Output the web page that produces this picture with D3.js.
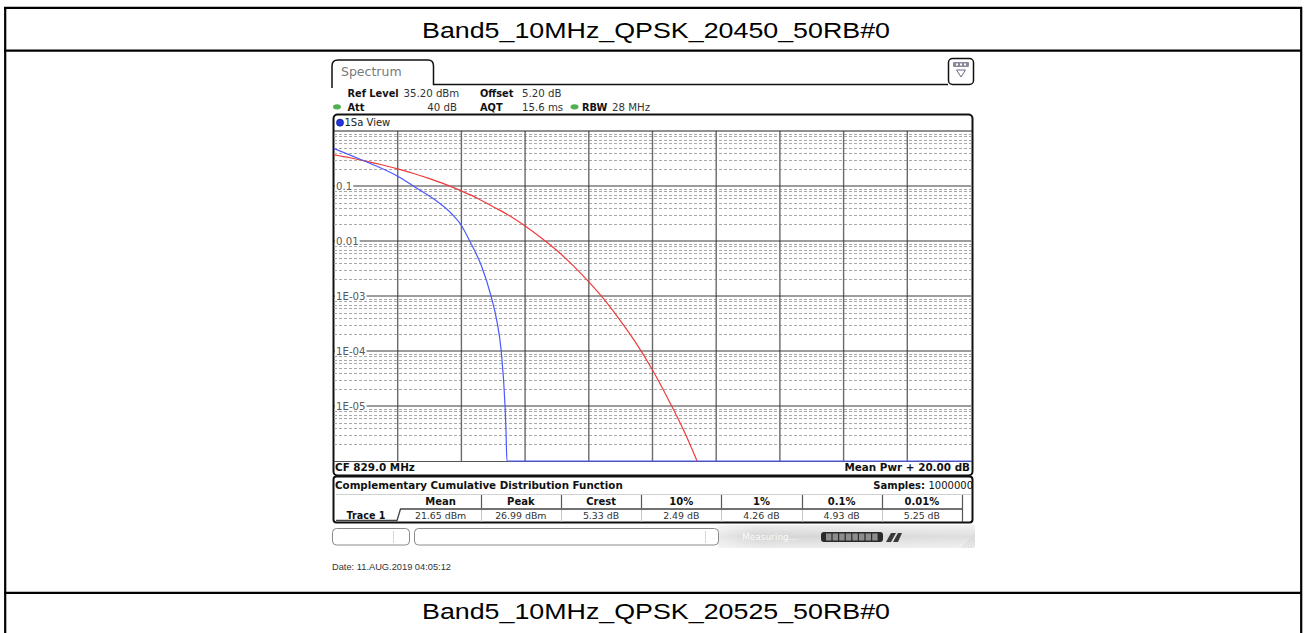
<!DOCTYPE html>
<html>
<head>
<meta charset="utf-8">
<script src="https://cdn.jsdelivr.net/npm/d3@7"></script>
<style>
  body { margin: 0; background: #fff; }
  svg { display: block; }
</style>
</head>
<body>
<svg id="chart"></svg>
<script>
"use strict";

const titleTop = "Band5_10MHz_QPSK_20450_50RB#0";
const titleBottom = "Band5_10MHz_QPSK_20525_50RB#0";

// y axis decade labels (probability, log)
const decadeValues = [0.1, 0.01, 1e-3, 1e-4, 1e-5];
const decadeLabels = ["0.1", "0.01", "1E-03", "1E-04", "1E-05"];

// red reference curve (dB above mean power -> probability)
const refDb = [0, 0.5, 1, 1.5, 2, 2.5, 3, 3.5, 4, 4.5, 5, 5.5, 6, 6.5, 7, 7.5, 8, 8.5, 9, 9.5, 10, 10.5, 11, 11.4];
const refProb = [0.368, 0.326, 0.284, 0.243, 0.205, 0.169, 0.136, 0.107, 0.081, 0.060, 0.042, 0.029,
                 0.0187, 0.0115, 0.0067, 0.0036, 0.0018, 8.4e-4, 3.5e-4, 1.35e-4, 4.5e-5, 1.3e-5, 3.4e-6, 1e-6];

// blue measured trace
const measDb = [0, 0.8, 2.0, 2.49, 3.17, 3.7, 4.03, 4.26, 4.64, 4.93, 5.11, 5.25, 5.37, 5.4, 5.43, 20];
const measProb = [0.48, 0.31, 0.15, 0.1, 0.056, 0.031, 0.018, 0.01, 0.0034, 0.001, 3.6e-4, 1e-4, 1e-5, 3.6e-6, 1e-6, 1e-6];

// result table
const statHeaders = ["Mean", "Peak", "Crest", "10%", "1%", "0.1%", "0.01%"];
const statValues = ["21.65 dBm", "26.99 dBm", "5.33 dB", "2.49 dB", "4.26 dB", "4.93 dB", "5.25 dB"];

const width = 1304;
const height = 633;
const ui_font = "DejaVu Sans, Verdana, sans-serif";
const title_font = "Liberation Sans, Arial, sans-serif";

const svg = d3.select("#chart")
    .attr("width", width)
    .attr("height", height);

// ---- outer document table ----
const frame = svg.append("g").attr("stroke", "#000").attr("stroke-width", 2.2);
frame.append("line").attr("x1", 4).attr("x2", 1302).attr("y1", 7.8).attr("y2", 7.8);
frame.append("line").attr("x1", 5.2).attr("x2", 5.2).attr("y1", 7).attr("y2", height);
frame.append("line").attr("x1", 1301.2).attr("x2", 1301.2).attr("y1", 7).attr("y2", height);
frame.append("line").attr("x1", 4).attr("x2", 1302).attr("y1", 50.7).attr("y2", 50.7);
frame.append("line").attr("x1", 4).attr("x2", 1302).attr("y1", 592.8).attr("y2", 592.8);

svg.append("text")
    .attr("x", 656).attr("y", 37.5)
    .attr("text-anchor", "middle")
    .attr("font-family", title_font).attr("font-size", 22)
    .attr("textLength", 468).attr("lengthAdjust", "spacingAndGlyphs")
    .text(titleTop);

svg.append("text")
    .attr("x", 656).attr("y", 619)
    .attr("text-anchor", "middle")
    .attr("font-family", title_font).attr("font-size", 22)
    .attr("textLength", 468).attr("lengthAdjust", "spacingAndGlyphs")
    .text(titleBottom);

// ---- analyzer screenshot ----
const scr = svg.append("g");

// tab
scr.append("path")
    .attr("d", "M332,88 L332,66 Q332,60 338,60 L428,60 Q433.5,60 433.5,66 L433.5,84.5 L948,84.5")
    .attr("fill", "none").attr("stroke", "#111").attr("stroke-width", 1.5);
scr.append("text")
    .attr("x", 341).attr("y", 76)
    .attr("font-family", ui_font).attr("font-size", 12.5).attr("fill", "#7a7a7a")
    .text("Spectrum");

// icon top right
scr.append("rect")
    .attr("x", 948.5).attr("y", 58.5).attr("width", 25).attr("height", 26).attr("rx", 4)
    .attr("fill", "#fff").attr("stroke", "#111").attr("stroke-width", 1.5);
scr.append("rect")
    .attr("x", 953).attr("y", 62).attr("width", 16).attr("height", 5).attr("rx", 1)
    .attr("fill", "#8a8a9a");
[957, 961, 965].forEach(cx => scr.append("rect")
    .attr("x", cx - 1).attr("y", 63.5).attr("width", 2).attr("height", 2).attr("fill", "#fff"));
scr.append("path")
    .attr("d", "M956.5,70 L965.5,70 L961,77 Z")
    .attr("fill", "none").attr("stroke", "#6a6a8a").attr("stroke-width", 1);

// settings lines
function setText(x, y, txt, bold, anchor) {
    scr.append("text")
        .attr("x", x).attr("y", y)
        .attr("text-anchor", anchor || "start")
        .attr("font-family", ui_font).attr("font-size", bold ? 9.8 : 10.2)
        .attr("font-weight", bold ? "bold" : "normal")
        .attr("fill", bold ? "#111" : "#333")
        .text(txt);
}
setText(347.5, 96.5, "Ref Level", true);
setText(403.5, 96.5, "35.20 dBm", false);
setText(480, 96.5, "Offset", true);
setText(522, 96.5, "5.20 dB", false);
setText(347.5, 110.5, "Att", true);
setText(457, 110.5, "40 dB", false, "end");
setText(480, 110.5, "AQT", true);
setText(522, 110.5, "15.6 ms", false);
setText(582, 110.5, "RBW", true);
setText(612, 110.5, "28 MHz", false);
[337, 574.5].forEach(cx => scr.append("ellipse")
    .attr("cx", cx).attr("cy", 106.8).attr("rx", 4).attr("ry", 2.6)
    .attr("fill", "#4fb04f"));

// window frame (plot + footer)
scr.append("rect")
    .attr("x", 333.5).attr("y", 114.5).attr("width", 639).attr("height", 361).attr("rx", 4)
    .attr("fill", "#fff").attr("stroke", "#111").attr("stroke-width", 2);
scr.append("circle")
    .attr("cx", 340).attr("cy", 122.7).attr("r", 3.6)
    .attr("fill", "#2233dd").attr("stroke", "#0a1288").attr("stroke-width", 0.6);
scr.append("text")
    .attr("x", 344.5).attr("y", 126.4)
    .attr("font-family", ui_font).attr("font-size", 10).attr("fill", "#222")
    .text("1Sa View");

// ---- plot ----
const x = d3.scaleLinear().domain([0, 20]).range([334, 971]);
const y = d3.scaleLog().domain([1e-6, 1]).range([461, 131]);

const plot = scr.append("g");
plot.append("defs").append("clipPath").attr("id", "plotclip")
    .append("rect").attr("x", 334).attr("y", 130).attr("width", 638).attr("height", 332);

// minor (dashed) probability lines
const minorVals = [];
d3.range(-6, 0).forEach(e => d3.range(2, 10).forEach(k => minorVals.push(k * Math.pow(10, e))));
plot.append("g").selectAll("line")
    .data(minorVals).enter().append("line")
    .attr("x1", 334).attr("x2", 971)
    .attr("y1", d => Math.round(y(d)) + 0.5).attr("y2", d => Math.round(y(d)) + 0.5)
    .attr("stroke", "#a9a9a9").attr("stroke-width", 1).attr("stroke-dasharray", "3,2");

// vertical grid
plot.append("g").selectAll("line")
    .data(x.ticks(10).slice(1, -1)).enter().append("line")
    .attr("x1", d => x(d)).attr("x2", d => x(d))
    .attr("y1", 131).attr("y2", 461)
    .attr("stroke", "#6a6a6a").attr("stroke-width", 1.4);

// decade lines + labels
const dec = plot.append("g").selectAll("g")
    .data(decadeValues).enter().append("g");
dec.append("line")
    .attr("x1", 334).attr("x2", 971)
    .attr("y1", d => y(d)).attr("y2", d => y(d))
    .attr("stroke", "#3a3a3a").attr("stroke-width", 1);
dec.append("text")
    .attr("x", 336).attr("y", d => y(d) + 3.8)
    .attr("font-family", ui_font).attr("font-size", 10.2).attr("fill", "#5a5a5a")
    .text((d, i) => decadeLabels[i])
    .each(function () {
        const b = this.getBBox();
        d3.select(this.parentNode).insert("rect", "text")
            .attr("x", b.x - 1).attr("y", b.y + 1).attr("width", b.width + 2).attr("height", b.height - 2)
            .attr("fill", "#fff");
    });

// top / bottom edges
plot.append("line").attr("x1", 334).attr("x2", 972).attr("y1", 131).attr("y2", 131)
    .attr("stroke", "#222").attr("stroke-width", 1);
plot.append("line").attr("x1", 334).attr("x2", 972).attr("y1", 461.5).attr("y2", 461.5)
    .attr("stroke", "#555").attr("stroke-width", 1);

// traces
const line = d3.line()
    .x(d => x(d[0]))
    .y(d => y(d[1]))
    .curve(d3.curveMonotoneX);

plot.append("path")
    .datum(refDb.map((d, i) => [d, refProb[i]]))
    .attr("d", line)
    .attr("clip-path", "url(#plotclip)")
    .attr("fill", "none").attr("stroke", "#f03a3a").attr("stroke-width", 1.2);

plot.append("path")
    .datum(measDb.map((d, i) => [d, measProb[i]]))
    .attr("d", line)
    .attr("clip-path", "url(#plotclip)")
    .attr("fill", "none").attr("stroke", "#4a58ff").attr("stroke-width", 1.2);

// plot footer text
scr.append("text")
    .attr("x", 335).attr("y", 471.3)
    .attr("font-family", ui_font).attr("font-size", 10.4).attr("font-weight", "bold").attr("fill", "#111")
    .text("CF 829.0 MHz");
scr.append("text")
    .attr("x", 970).attr("y", 471.3).attr("text-anchor", "end")
    .attr("font-family", ui_font).attr("font-size", 10.4).attr("font-weight", "bold").attr("fill", "#111")
    .text("Mean Pwr + 20.00 dB");

// ---- result table ----
scr.append("rect")
    .attr("x", 333.5).attr("y", 476.5).attr("width", 639).attr("height", 46).attr("rx", 3)
    .attr("fill", "#fff").attr("stroke", "#111").attr("stroke-width", 2);
scr.append("text")
    .attr("x", 335).attr("y", 489)
    .attr("font-family", ui_font).attr("font-size", 10.3).attr("font-weight", "bold").attr("fill", "#111")
    .text("Complementary Cumulative Distribution Function");
const samp = scr.append("text")
    .attr("x", 973).attr("y", 489).attr("text-anchor", "end")
    .attr("font-family", ui_font).attr("font-size", 10).attr("fill", "#111");
samp.append("tspan").attr("font-weight", "bold").text("Samples: ");
samp.append("tspan").text("1000000");

scr.append("line").attr("x1", 336).attr("x2", 971).attr("y1", 494.5).attr("y2", 494.5)
    .attr("stroke", "#d0d0d0").attr("stroke-width", 1);

const col = d3.scaleBand().domain(statHeaders).range([400.5, 962]);
const tbl = scr.append("g");
tbl.selectAll("text.hdr")
    .data(statHeaders).enter().append("text")
    .attr("class", "hdr")
    .attr("x", d => col(d) + col.bandwidth() / 2).attr("y", 505.4)
    .attr("text-anchor", "middle")
    .attr("font-family", ui_font).attr("font-size", 10).attr("font-weight", "bold").attr("fill", "#111")
    .text(d => d);
tbl.selectAll("text.val")
    .data(statValues).enter().append("text")
    .attr("class", "val")
    .attr("x", (d, i) => col(statHeaders[i]) + col.bandwidth() / 2).attr("y", 518.8)
    .attr("text-anchor", "middle")
    .attr("font-family", ui_font).attr("font-size", 9.4).attr("fill", "#333")
    .text(d => d);
// header dividers
tbl.selectAll("line.hd")
    .data(statHeaders.slice(1)).enter().append("line")
    .attr("x1", d => Math.round(col(d)) + 0.5).attr("x2", d => Math.round(col(d)) + 0.5)
    .attr("y1", 495).attr("y2", 508)
    .attr("stroke", "#555").attr("stroke-width", 1.2);
tbl.selectAll("line.vd")
    .data(statHeaders.slice(1)).enter().append("line")
    .attr("x1", d => Math.round(col(d)) + 0.5).attr("x2", d => Math.round(col(d)) + 0.5)
    .attr("y1", 509).attr("y2", 522)
    .attr("stroke", "#c8c8c8").attr("stroke-width", 1);
tbl.append("line").attr("x1", 962.5).attr("x2", 962.5).attr("y1", 495).attr("y2", 522)
    .attr("stroke", "#555").attr("stroke-width", 1.2);
// trace tab
tbl.append("path")
    .attr("d", "M336,520.5 L397,520.5 L400.5,509 L962,509")
    .attr("fill", "none").attr("stroke", "#444").attr("stroke-width", 1.3);
tbl.append("text")
    .attr("x", 366).attr("y", 518.8).attr("text-anchor", "middle")
    .attr("font-family", ui_font).attr("font-size", 9.6).attr("font-weight", "bold").attr("fill", "#111")
    .text("Trace 1");

// ---- status bar ----
const grad = svg.append("defs").append("linearGradient")
    .attr("id", "statusgrad").attr("x1", 0).attr("x2", 0).attr("y1", 0).attr("y2", 1);
grad.append("stop").attr("offset", "0%").attr("stop-color", "#eeeeee");
grad.append("stop").attr("offset", "50%").attr("stop-color", "#d4d4d4");
grad.append("stop").attr("offset", "100%").attr("stop-color", "#ececec");
const hgrad = svg.select("defs").append("linearGradient")
    .attr("id", "statusfade").attr("x1", 0).attr("x2", 1).attr("y1", 0).attr("y2", 0);
hgrad.append("stop").attr("offset", "0%").attr("stop-color", "#fff").attr("stop-opacity", 0.5);
hgrad.append("stop").attr("offset", "15%").attr("stop-color", "#fff").attr("stop-opacity", 0);
hgrad.append("stop").attr("offset", "100%").attr("stop-color", "#fff").attr("stop-opacity", 0.25);

scr.append("rect")
    .attr("x", 718).attr("y", 525).attr("width", 257).attr("height", 23)
    .attr("fill", "url(#statusgrad)");
scr.append("rect")
    .attr("x", 718).attr("y", 525).attr("width", 257).attr("height", 23)
    .attr("fill", "url(#statusfade)");
scr.append("rect")
    .attr("x", 332.5).attr("y", 528.5).attr("width", 77).attr("height", 16.5).attr("rx", 4)
    .attr("fill", "#fff").attr("stroke", "#8a8a8a").attr("stroke-width", 1);
scr.append("line").attr("x1", 393.5).attr("x2", 393.5).attr("y1", 531).attr("y2", 543)
    .attr("stroke", "#d8d8d8");
scr.append("rect")
    .attr("x", 414.5).attr("y", 528.5).attr("width", 304).attr("height", 16.5).attr("rx", 4)
    .attr("fill", "#fff").attr("stroke", "#8a8a8a").attr("stroke-width", 1);
scr.append("line").attr("x1", 705.5).attr("x2", 705.5).attr("y1", 531).attr("y2", 543)
    .attr("stroke", "#d8d8d8");
scr.append("text")
    .attr("x", 742).attr("y", 539.5)
    .attr("font-family", ui_font).attr("font-size", 9).attr("fill", "#fafafa")
    .text("Measuring...");
scr.append("rect")
    .attr("x", 821).attr("y", 532).attr("width", 62).attr("height", 10).attr("rx", 3)
    .attr("fill", "#2a2a2a");
d3.range(8).forEach(i => scr.append("rect")
    .attr("x", 826 + i * 6.6).attr("y", 533.5).attr("width", 5.4).attr("height", 7)
    .attr("fill", "#8c8c8c"));
scr.append("path")
    .attr("d", "M886,542 L891,533 L896,533 L891,542 Z M893,542 L898,533 L902,533 L898,542 Z")
    .attr("fill", "#3a3a3a");
// resize grip hint
d3.range(4).forEach(i => scr.append("line")
    .attr("x1", 962 + i * 3).attr("y1", 548).attr("x2", 975).attr("y2", 535 + i * 3)
    .attr("stroke", "#cfcfcf").attr("stroke-width", 0.8));

// date
scr.append("text")
    .attr("x", 332).attr("y", 569.8)
    .attr("font-family", title_font).attr("font-size", 9.2).attr("fill", "#333")
    .attr("textLength", 119).attr("lengthAdjust", "spacingAndGlyphs")
    .text("Date: 11.AUG.2019  04:05:12");
</script>
</body>
</html>
